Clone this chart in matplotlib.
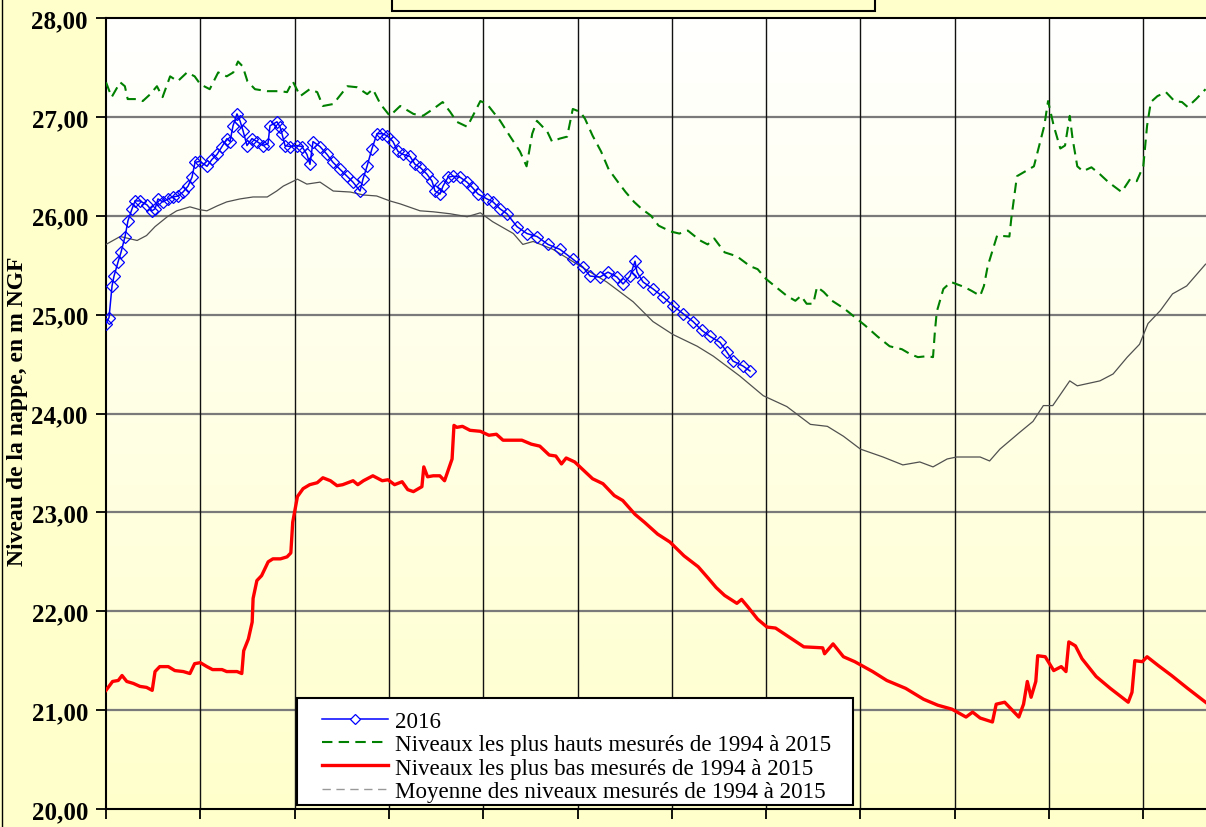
import numpy as np
import matplotlib
matplotlib.use('Agg')
import matplotlib.pyplot as plt
from matplotlib.lines import Line2D
from matplotlib.patches import Rectangle
from matplotlib.colors import LinearSegmentedColormap

plt.rcParams['font.family'] = ['Liberation Serif', 'DejaVu Serif']

# abscisse en mois (0 = debut de l'annee hydrologique), niveaux en m NGF
mois_2016 = [0.000, 0.032, 0.064, 0.085, 0.127, 0.159, 0.202, 0.233, 0.276, 0.308,
             0.361, 0.435, 0.488, 0.520, 0.551, 0.604, 0.657, 0.710, 0.764, 0.817,
             0.870, 0.912, 0.944, 0.997, 1.071, 1.124, 1.177, 1.230, 1.283, 1.315,
             1.347, 1.389, 1.421, 1.453, 1.495, 1.548, 1.601, 1.665, 1.718, 1.739,
             1.813, 1.845, 1.866, 1.898, 1.951, 2.025, 2.078, 2.131, 2.163, 2.195,
             2.269, 2.344, 2.407, 2.481, 2.556, 2.619, 2.694, 2.725, 2.768, 2.821,
             2.874, 2.927, 2.980, 3.043, 3.097, 3.150, 3.224, 3.277, 3.330, 3.404,
             3.457, 3.489, 3.542, 3.574, 3.627, 3.680, 3.754, 3.828, 3.881, 3.945,
             4.040, 4.104, 4.178, 4.252, 4.358, 4.464, 4.571, 4.687, 4.814, 4.952,
             5.058, 5.133, 5.239, 5.323, 5.419, 5.483, 5.557, 5.610, 5.631, 5.695,
             5.801, 5.907, 6.013, 6.119, 6.225, 6.320, 6.405, 6.511, 6.585, 6.649,
             6.755, 6.829]
niv_2016 = [24.91, 24.97, 25.29, 25.39, 25.53, 25.63, 25.79, 25.95, 26.07, 26.15,
            26.15, 26.11, 26.05, 26.07, 26.17, 26.14, 26.17, 26.19, 26.20, 26.24,
            26.30, 26.39, 26.54, 26.55, 26.50, 26.57, 26.62, 26.70, 26.78, 26.75,
            26.91, 27.03, 26.96, 26.86, 26.71, 26.78, 26.75, 26.71, 26.73, 26.91,
            26.95, 26.90, 26.83, 26.71, 26.70, 26.71, 26.70, 26.62, 26.52, 26.75,
            26.70, 26.62, 26.54, 26.47, 26.40, 26.34, 26.25, 26.37, 26.50, 26.68,
            26.83, 26.83, 26.81, 26.75, 26.65, 26.62, 26.60, 26.52, 26.49, 26.42,
            26.35, 26.25, 26.22, 26.30, 26.39, 26.40, 26.39, 26.34, 26.29, 26.22,
            26.17, 26.14, 26.07, 26.02, 25.89, 25.82, 25.79, 25.71, 25.66, 25.56,
            25.48, 25.39, 25.38, 25.43, 25.38, 25.31, 25.39, 25.54, 25.43, 25.33,
            25.26, 25.18, 25.09, 25.01, 24.93, 24.84, 24.78, 24.72, 24.62, 24.53,
            24.48, 24.43]

mois_max = [0.00, 0.06, 0.15, 0.20, 0.23, 0.33, 0.39, 0.47, 0.54, 0.60, 0.68, 0.76,
            0.86, 0.94, 1.00, 1.10, 1.19, 1.28, 1.35, 1.40, 1.45, 1.50, 1.58, 1.71,
            1.85, 1.92, 1.98, 2.06, 2.16, 2.24, 2.30, 2.41, 2.56, 2.66, 2.77, 2.83,
            2.91, 3.01, 3.12, 3.26, 3.36, 3.47, 3.57, 3.65, 3.72, 3.83, 3.89, 3.97,
            4.04, 4.18, 4.28, 4.39, 4.46, 4.52, 4.57, 4.68, 4.73, 4.81, 4.89, 4.95,
            5.03, 5.08, 5.16, 5.25, 5.33, 5.43, 5.51, 5.60, 5.68, 5.78, 5.86, 5.99,
            6.08, 6.17, 6.30, 6.38, 6.45, 6.56, 6.69, 6.83, 6.91, 7.00, 7.13, 7.22,
            7.31, 7.37, 7.43, 7.50, 7.54, 7.61, 7.70, 7.83, 7.96, 8.05, 8.18, 8.31,
            8.44, 8.53, 8.61, 8.71, 8.77, 8.79, 8.81, 8.88, 8.96, 9.10, 9.18, 9.27,
            9.31, 9.35, 9.45, 9.58, 9.60, 9.66, 9.75, 9.84, 9.88, 9.95, 9.99, 10.05,
            10.12, 10.17, 10.22, 10.25, 10.30, 10.36, 10.45, 10.54, 10.63, 10.77,
            10.86, 10.93, 11.00, 11.04, 11.08, 11.15, 11.24, 11.33, 11.41, 11.47,
            11.56, 11.66]
niv_max = [27.35, 27.20, 27.35, 27.31, 27.18, 27.18, 27.16, 27.23, 27.31, 27.20, 27.41, 27.36,
           27.45, 27.41, 27.33, 27.28, 27.45, 27.41, 27.45, 27.56, 27.51, 27.36, 27.28, 27.26,
           27.26, 27.25, 27.36, 27.21, 27.28, 27.25, 27.11, 27.13, 27.31, 27.30, 27.23, 27.28,
           27.13, 27.01, 27.11, 27.03, 27.01, 27.08, 27.15, 27.05, 26.95, 26.90, 27.01, 27.16,
           27.13, 26.96, 26.81, 26.65, 26.50, 26.83, 26.96, 26.85, 26.75, 26.78, 26.80, 27.08,
           27.05, 26.98, 26.81, 26.65, 26.47, 26.34, 26.24, 26.14, 26.07, 26.00, 25.90, 25.84,
           25.82, 25.85, 25.75, 25.71, 25.77, 25.63, 25.59, 25.49, 25.46, 25.36, 25.26, 25.19,
           25.14, 25.19, 25.11, 25.11, 25.28, 25.23, 25.14, 25.06, 24.96, 24.89, 24.78, 24.68,
           24.65, 24.60, 24.57, 24.58, 24.57, 24.83, 25.03, 25.26, 25.33, 25.28, 25.24, 25.19,
           25.29, 25.49, 25.80, 25.79, 25.97, 26.40, 26.45, 26.50, 26.65, 26.91, 27.16, 26.91,
           26.68, 26.71, 27.01, 26.78, 26.50, 26.45, 26.49, 26.42, 26.34, 26.24,
           26.37, 26.35, 26.50, 26.91, 27.15, 27.21, 27.25, 27.16, 27.15, 27.10,
           27.18, 27.28]

mois_min = [0.00, 0.07, 0.13, 0.17, 0.22, 0.29, 0.36, 0.43, 0.49, 0.52, 0.57, 0.66,
            0.73, 0.82, 0.89, 0.94, 1.00, 1.07, 1.13, 1.23, 1.28, 1.39, 1.44, 1.46,
            1.51, 1.55, 1.56, 1.60, 1.65, 1.72, 1.77, 1.85, 1.92, 1.96, 1.98, 2.03,
            2.09, 2.16, 2.24, 2.30, 2.38, 2.45, 2.51, 2.62, 2.67, 2.73, 2.83, 2.93,
            2.99, 3.06, 3.14, 3.20, 3.26, 3.35, 3.37, 3.41, 3.47, 3.54, 3.59, 3.67,
            3.69, 3.72, 3.78, 3.86, 3.97, 4.06, 4.14, 4.21, 4.31, 4.41, 4.51, 4.60,
            4.70, 4.77, 4.83, 4.88, 4.97, 5.07, 5.16, 5.27, 5.39, 5.48, 5.61, 5.71,
            5.85, 5.98, 6.13, 6.28, 6.39, 6.47, 6.56, 6.69, 6.74, 6.81, 6.91, 7.01,
            7.10, 7.21, 7.40, 7.60, 7.62, 7.71, 7.82, 7.94, 8.13, 8.28, 8.48, 8.67,
            8.82, 8.97, 9.12, 9.19, 9.27, 9.40, 9.44, 9.53, 9.68, 9.73, 9.77, 9.81,
            9.86, 9.88, 9.96, 10.05, 10.13, 10.18, 10.21, 10.28, 10.35, 10.50, 10.65,
            10.80, 10.84, 10.88, 10.91, 10.99, 11.04, 11.16, 11.30, 11.47, 11.66]
niv_min = [21.20, 21.29, 21.30, 21.35, 21.29, 21.27, 21.24, 21.23, 21.20, 21.39, 21.44, 21.44,
           21.40, 21.39, 21.37, 21.47, 21.48, 21.44, 21.41, 21.41, 21.39, 21.39, 21.37, 21.60,
           21.72, 21.89, 22.13, 22.31, 22.36, 22.50, 22.53, 22.53, 22.55, 22.59, 22.90, 23.16,
           23.24, 23.28, 23.30, 23.35, 23.32, 23.27, 23.28, 23.32, 23.28, 23.32, 23.37, 23.32,
           23.33, 23.28, 23.31, 23.23, 23.21, 23.26, 23.46, 23.36, 23.37, 23.37, 23.32, 23.54,
           23.88, 23.86, 23.87, 23.83, 23.82, 23.78, 23.79, 23.73, 23.73, 23.73, 23.69, 23.67,
           23.58, 23.57, 23.49, 23.55, 23.51, 23.42, 23.34, 23.29, 23.17, 23.12, 22.98, 22.90,
           22.78, 22.70, 22.56, 22.45, 22.33, 22.24, 22.16, 22.08, 22.12, 22.04, 21.92, 21.84,
           21.83, 21.76, 21.64, 21.63, 21.57, 21.67, 21.54, 21.49, 21.39, 21.30, 21.22, 21.11,
           21.05, 21.01, 20.93, 20.98, 20.92, 20.88, 21.06, 21.08, 20.93, 21.06, 21.29, 21.13,
           21.29, 21.55, 21.54, 21.40, 21.44, 21.39, 21.69, 21.65, 21.52, 21.34, 21.22,
           21.11, 21.08, 21.18, 21.50, 21.49, 21.54, 21.45, 21.35, 21.22, 21.08]

mois_moy = [0.00, 0.15, 0.33, 0.43, 0.52, 0.65, 0.75, 0.89, 1.00, 1.07, 1.18, 1.28,
            1.42, 1.56, 1.71, 1.81, 1.88, 2.03, 2.13, 2.27, 2.41, 2.59, 2.73, 2.87,
            3.01, 3.12, 3.33, 3.47, 3.65, 3.83, 3.97, 4.10, 4.32, 4.42, 4.53, 4.74,
            5.03, 5.31, 5.59, 5.80, 6.01, 6.27, 6.44, 6.72, 6.97, 7.22, 7.47, 7.65,
            7.82, 8.00, 8.24, 8.45, 8.63, 8.77, 8.92, 9.02, 9.27, 9.37, 9.48, 9.69,
            9.83, 9.94, 10.04, 10.22, 10.30, 10.54, 10.68, 10.83, 10.96, 11.05, 11.18,
            11.31, 11.46, 11.66]
niv_moy = [25.71, 25.79, 25.75, 25.80, 25.89, 25.99, 26.05, 26.09, 26.06, 26.05, 26.10, 26.14,
           26.17, 26.19, 26.19, 26.25, 26.30, 26.37, 26.32, 26.34, 26.25, 26.24, 26.21, 26.20,
           26.15, 26.12, 26.05, 26.04, 26.02, 25.99, 26.03, 25.94, 25.82, 25.71, 25.74, 25.66,
           25.49, 25.33, 25.13, 24.93, 24.80, 24.68, 24.58, 24.38, 24.18, 24.07, 23.89, 23.87,
           23.77, 23.64, 23.56, 23.48, 23.51, 23.46, 23.54, 23.56, 23.56, 23.52, 23.64, 23.81,
           23.92, 24.08, 24.08, 24.33, 24.28, 24.33, 24.40, 24.57, 24.70, 24.91, 25.04,
           25.21, 25.29, 25.51]

graduations = [20, 21, 22, 23, 24, 25, 26, 27, 28]
libelles = ['2016',
            'Niveaux les plus hauts mesurés de 1994 à 2015',
            'Niveaux les plus bas mesurés de 1994 à 2015',
            'Moyenne des niveaux mesurés de 1994 à 2015']

W, H = 1206, 828
xmax = 1100 / 94.3

fig = plt.figure(figsize=(W / 100, H / 100), dpi=100, facecolor='#FFFFCC')
ax = fig.add_axes([106 / W, 18 / H, 1100 / W, 791 / H])

# fond degrade blanc -> jaune
fond = LinearSegmentedColormap.from_list('fond', ['#FFFFFF', '#FFFFCC'])
ax.imshow(np.linspace(0, 1, 256).reshape(-1, 1), cmap=fond, aspect='auto',
          extent=[0, xmax, 20, 28], origin='upper', zorder=0)

for v in graduations[1:-1]:
    ax.axhline(v, color='#7a7a7a', lw=1.6, zorder=1)
for m in range(1, 12):
    ax.axvline(m, color='#111111', lw=1.0, zorder=1)

ax.plot(mois_moy, niv_moy, color='#505050', lw=0.9, zorder=3)
ax.plot(mois_min, niv_min, color='#FF0000', lw=2.4, zorder=3)
ax.plot(mois_max, niv_max, color='#008000', lw=1.5, ls=(0, (5, 3)), zorder=3)
ax.plot(mois_2016, niv_2016, color='#0000FF', lw=1.1, marker='D', ms=6.5,
        mfc='none', mec='#0000FF', mew=0.9, zorder=4)

ax.set_xlim(0, xmax)
ax.set_ylim(20, 28)
ax.set_xticks(range(0, 12))
ax.set_xticklabels([])
ax.set_yticks(graduations)
ax.set_yticklabels([f'{v:.2f}'.replace('.', ',') for v in graduations],
                   fontsize=18, fontweight='bold')
ax.tick_params(axis='both', direction='out', length=7, width=1.3, color='black')
ax.tick_params(axis='y', pad=6)
for s in ['left', 'top', 'bottom']:
    ax.spines[s].set_linewidth(1.5)
ax.spines['right'].set_visible(False)

fig.text(18 / W, 1 - 411 / H, 'Niveau de la nappe, en m NGF', rotation=90,
         ha='center', va='center', fontsize=17, fontweight='bold')

# cadre de la legende
fig.add_artist(Rectangle((297 / W, 1 - 806 / H), (853 - 297) / W, (806 - 699) / H,
                         transform=fig.transFigure, facecolor='white',
                         edgecolor='black', lw=1.5, zorder=4))
poignees = [
    Line2D([], [], color='#0000FF', lw=1.1, marker='D', ms=5.5, mfc='white', mec='#0000FF', mew=0.9),
    Line2D([], [], color='#008000', lw=1.5, ls=(0, (5, 3))),
    Line2D([], [], color='#FF0000', lw=2.4),
    Line2D([], [], color='#999999', lw=1.0, ls=(0, (6, 4))),
]
leg = fig.legend(poignees, libelles, loc='lower left', bbox_to_anchor=(322 / W, 1 - 803 / H),
                 frameon=False, fontsize=16.6, handlelength=2.87, handletextpad=0.3,
                 labelspacing=0.1, borderpad=0, borderaxespad=0)
leg.set_zorder(5)

# cadre du titre (coupe en haut)
fig.patches.append(Rectangle((392 / W, 1 - 12 / H), (875 - 392) / W, 30 / H,
                             transform=fig.transFigure, facecolor='#FFFFCC',
                             edgecolor='black', lw=1.5))
fig.add_artist(Line2D([1.5 / W, 1.5 / W], [0, 1], transform=fig.transFigure,
                      color='black', lw=1.0))

fig.savefig('out.png', dpi=100, facecolor=fig.get_facecolor())
